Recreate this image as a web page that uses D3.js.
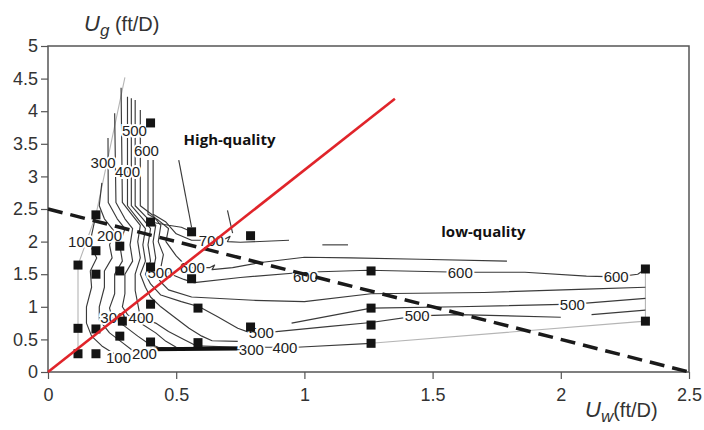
<!DOCTYPE html>
<html>
<head>
<meta charset="utf-8">
<script src="https://d3js.org/d3.v7.min.js"></script>
<style>
body { margin: 0; background: #fff; }
.tick text { font-family: "Liberation Sans", Arial, sans-serif; font-size: 18px; fill: #333; }
.tick line { stroke: #555; stroke-width: 1.2; }
.clab { font-family: "Liberation Sans", Arial, sans-serif; font-size: 15px; fill: #222;
        stroke: #fff; stroke-width: 4; paint-order: stroke; }
.note { font-family: "Open Sans", "Noto Sans", sans-serif; font-size: 15px; font-weight: bold; fill: #111; }
.atitle { font-family: "Liberation Sans", Arial, sans-serif; font-size: 20px; fill: #333; }
</style>
</head>
<body>
<script>
// axis ticks
var xTicks = [0, 0.5, 1, 1.5, 2, 2.5]
var yTicks = [0, 0.5, 1, 1.5, 2, 2.5, 3, 3.5, 4, 4.5, 5]

// measured points (Uw, Ug)
var points = [
  [0.117, 1.64], [0.187, 2.41], [0.187, 1.86], [0.187, 1.50],
  [0.28, 1.93], [0.28, 1.55], [0.40, 3.82], [0.40, 2.30], [0.40, 1.61],
  [0.40, 1.04], [0.56, 2.15], [0.56, 1.43], [0.585, 0.98], [0.79, 2.09],
  [0.79, 0.69], [0.117, 0.67], [0.187, 0.66], [0.29, 0.78], [0.28, 0.55],
  [0.40, 0.46], [0.585, 0.45], [0.117, 0.28], [0.187, 0.28],
  [1.26, 1.55], [1.26, 0.98], [1.26, 0.72], [1.26, 0.44],
  [2.33, 1.58], [2.33, 0.78]
]

// contour lines, left cluster (tall spike)
var spikeLines = [
  [[0.187,2.41],[0.17,2.1],[0.17,1.9],[0.19,1.75],[0.165,1.55],[0.17,1.3],[0.15,1.0],[0.15,0.75],[0.17,0.55],[0.21,0.4],[0.25,0.3],[0.28,0.24]],
  [[0.21,2.9],[0.2,2.55],[0.22,2.35],[0.26,2.15],[0.24,1.95],[0.25,1.75],[0.22,1.55],[0.22,1.3],[0.2,1.0],[0.2,0.8],[0.24,0.6],[0.29,0.45],[0.33,0.33],[0.36,0.29]],
  [[0.234,3.59],[0.235,2.6],[0.27,2.35],[0.3,2.2],[0.28,1.95],[0.29,1.7],[0.26,1.5],[0.26,1.2],[0.24,0.98],[0.25,0.84],[0.3,0.7],[0.35,0.55],[0.39,0.44],[0.43,0.38],[0.5,0.36],[0.75,0.36]],
  [[0.26,3.97],[0.265,2.6],[0.3,2.35],[0.33,2.2],[0.32,1.95],[0.33,1.7],[0.3,1.5],[0.3,1.2],[0.29,1.0],[0.31,0.88],[0.36,0.75],[0.42,0.6],[0.46,0.47],[0.5,0.38],[0.6,0.37],[0.75,0.37]],
  [[0.285,4.36],[0.29,2.6],[0.33,2.4],[0.36,2.25],[0.35,2.0],[0.36,1.75],[0.34,1.5],[0.34,1.25],[0.35,1.05],[0.36,0.84],[0.42,0.75],[0.47,0.62],[0.53,0.5],[0.58,0.4],[0.75,0.38],[0.97,0.38],[1.26,0.44]],
  [[0.31,4.22],[0.31,2.55],[0.35,2.35],[0.38,2.2],[0.37,1.95],[0.38,1.7],[0.36,1.5],[0.38,1.3],[0.4,1.15],[0.44,1.0],[0.5,0.82],[0.55,0.67],[0.6,0.55],[0.64,0.48],[0.74,0.47]],
  [[0.325,4.2],[0.325,2.55],[0.37,2.35],[0.4,2.2],[0.39,1.95],[0.4,1.7],[0.38,1.5],[0.4,1.35],[0.44,1.18],[0.52,1.08],[0.59,1.0],[0.66,0.85],[0.74,0.67],[0.79,0.6],[0.89,0.62],[1.1,0.7],[1.26,0.76],[1.44,0.86],[1.6,0.88],[2.0,0.84]],
  [[0.34,4.17],[0.34,2.55],[0.39,2.35],[0.42,2.25],[0.41,2.0],[0.42,1.75],[0.41,1.55],[0.44,1.38],[0.47,1.26],[0.56,1.15],[0.8,1.1],[1.0,1.08],[1.26,1.2],[1.7,1.22],[2.1,1.27],[2.33,1.30]],
  [[0.36,4.02],[0.36,2.55],[0.41,2.4],[0.44,2.25],[0.43,2.0],[0.45,1.8],[0.44,1.6],[0.48,1.5],[0.53,1.42],[0.57,1.37],[0.75,1.45],[1.0,1.53],[1.25,1.56],[1.61,1.53],[1.86,1.53],[2.1,1.47],[2.22,1.46],[2.3,1.5],[2.33,1.58]],
  [[0.39,3.25],[0.39,2.42],[0.43,2.33],[0.47,2.2],[0.46,2.0],[0.5,1.78],[0.53,1.66],[0.56,1.6],[0.63,1.6],[0.65,1.64],[0.64,1.57],[0.72,1.6],[0.83,1.68],[1.0,1.76],[1.18,1.75],[1.45,1.73],[1.79,1.7]],
  [[0.41,3.25],[0.41,2.42],[0.46,2.3],[0.5,2.12],[0.56,2.02],[0.63,2.02],[0.69,2.04],[0.71,2.08],[0.7,2.0],[0.75,1.99],[0.94,2.02]],
  [[0.4,2.3],[0.47,2.25],[0.52,2.22],[0.56,2.15]]
]

// other contour pieces
var otherLines = [
  [[0.51,3.25],[0.56,2.22]],
  [[0.7,2.48],[0.72,2.13]],
  [[1.07,1.95],[1.17,1.95]],
  [[0.95,0.75],[1.26,0.98],[1.6,1.0],[2.05,1.04],[2.33,1.13]],
  [[2.12,0.88],[2.33,0.95]],
  [[0.4,0.35],[0.75,0.36]]
]

// faint boundary lines
var edgeLines = [
  [[0.117,0.28],[0.117,1.64],[0.187,2.41],[0.30,4.52]],
  [[1.26,0.44],[2.33,0.78],[2.33,1.58]]
]

var contourLabels = [
  ["500", 0.337, 3.71], ["600", 0.384, 3.40], ["300", 0.215, 3.22], ["400", 0.31, 3.08],
  ["100", 0.127, 2.0], ["200", 0.24, 2.09], ["700", 0.637, 2.02], ["600", 0.563, 1.6],
  ["500", 0.437, 1.52], ["600", 1.004, 1.47], ["300", 0.253, 0.84], ["400", 0.363, 0.84],
  ["100", 0.275, 0.23], ["200", 0.376, 0.29], ["300", 0.793, 0.34], ["400", 0.924, 0.38],
  ["500", 0.832, 0.6], ["600", 1.608, 1.52], ["600", 2.216, 1.46], ["500", 1.44, 0.86],
  ["500", 2.045, 1.04]
]

var boundary = [[0, 2.5], [2.5, 0]]
var redLine = [[0, 0], [1.353, 4.19]]

var w = 704
var h = 430

var svg = d3.select("body")
            .append("svg")
            .attr("width", w)
            .attr("height", h)

var xScale = d3.scaleLinear().domain([0, 2.5]).range([48, 689])
var yScale = d3.scaleLinear().domain([0, 5]).range([372, 46])

var line = d3.line()
             .x(function(d){ return xScale(d[0]) })
             .y(function(d){ return yScale(d[1]) })

// frame
svg.append("rect")
   .attr("x", xScale(0))
   .attr("y", yScale(5))
   .attr("width", xScale(2.5) - xScale(0))
   .attr("height", yScale(0) - yScale(5))
   .attr("fill", "none")
   .attr("stroke", "#555")
   .attr("stroke-width", 1.5)

var xAxis = d3.axisBottom(xScale).tickValues(xTicks).tickSize(7).tickSizeOuter(0).tickPadding(6)
              .tickFormat(function(d){ return d })
var yAxis = d3.axisLeft(yScale).tickValues(yTicks).tickSize(7).tickSizeOuter(0).tickPadding(3)
              .tickFormat(function(d){ return d })

var gx = svg.append("g").attr("transform", "translate(0," + yScale(0) + ")").call(xAxis)
var gy = svg.append("g").attr("transform", "translate(" + xScale(0) + ",0)").call(yAxis)
gx.select(".domain").remove()
gy.select(".domain").remove()
gx.selectAll("text").attr("dy", "0.9em")

// contours
svg.append("g").selectAll("path")
   .data(edgeLines).enter().append("path")
   .attr("d", line).attr("fill", "none")
   .attr("stroke", "#b5b5b5").attr("stroke-width", 1.1)

svg.append("g").selectAll("path")
   .data(spikeLines.concat(otherLines)).enter().append("path")
   .attr("d", line).attr("fill", "none")
   .attr("stroke", "#3a3a3a").attr("stroke-width", 1.15)
   .attr("stroke-linejoin", "round")

svg.append("path")
   .attr("d", line(otherLines[5]))
   .attr("fill", "none").attr("stroke", "#111").attr("stroke-width", 4)

svg.append("g").selectAll("text")
   .data(contourLabels).enter().append("text")
   .attr("class", "clab")
   .attr("x", function(d){ return xScale(d[1]) })
   .attr("y", function(d){ return yScale(d[2]) })
   .attr("text-anchor", "middle")
   .attr("dominant-baseline", "central")
   .text(function(d){ return d[0] })

// squares
svg.append("g").selectAll("rect")
   .data(points).enter().append("rect")
   .attr("x", function(d){ return xScale(d[0]) - 4.5 })
   .attr("y", function(d){ return yScale(d[1]) - 4.5 })
   .attr("width", 9).attr("height", 9)
   .attr("fill", "#141414")

// dashed boundary and red line
svg.append("path")
   .attr("d", line(boundary))
   .attr("fill", "none").attr("stroke", "#1a1a1a")
   .attr("stroke-width", 3.5).attr("stroke-dasharray", "15,8")

svg.append("path")
   .attr("d", line(redLine))
   .attr("fill", "none").attr("stroke", "#e0242a")
   .attr("stroke-width", 2.6)

svg.append("text").attr("class", "note")
   .attr("x", xScale(0.708)).attr("y", yScale(3.57))
   .attr("text-anchor", "middle").attr("dominant-baseline", "central")
   .text("High-quality")

svg.append("text").attr("class", "note")
   .attr("x", xScale(1.698)).attr("y", yScale(2.16))
   .attr("text-anchor", "middle").attr("dominant-baseline", "central")
   .text("low-quality")

// axis titles
var tg = svg.append("text").attr("class", "atitle").attr("x", 84).attr("y", 31)
tg.append("tspan").attr("font-style", "italic").attr("font-size", "22px").text("U")
tg.append("tspan").attr("font-style", "italic").attr("font-size", "17px").attr("dy", 5).text("g")
tg.append("tspan").attr("dy", -5).text(" (ft/D)")

var tw = svg.append("text").attr("class", "atitle").attr("x", 585).attr("y", 417)
tw.append("tspan").attr("font-style", "italic").attr("font-size", "22px").text("U")
tw.append("tspan").attr("font-style", "italic").attr("font-size", "17px").attr("dy", 5).text("w")
tw.append("tspan").attr("dy", -5).text("(ft/D)")
</script>
</body>
</html>
